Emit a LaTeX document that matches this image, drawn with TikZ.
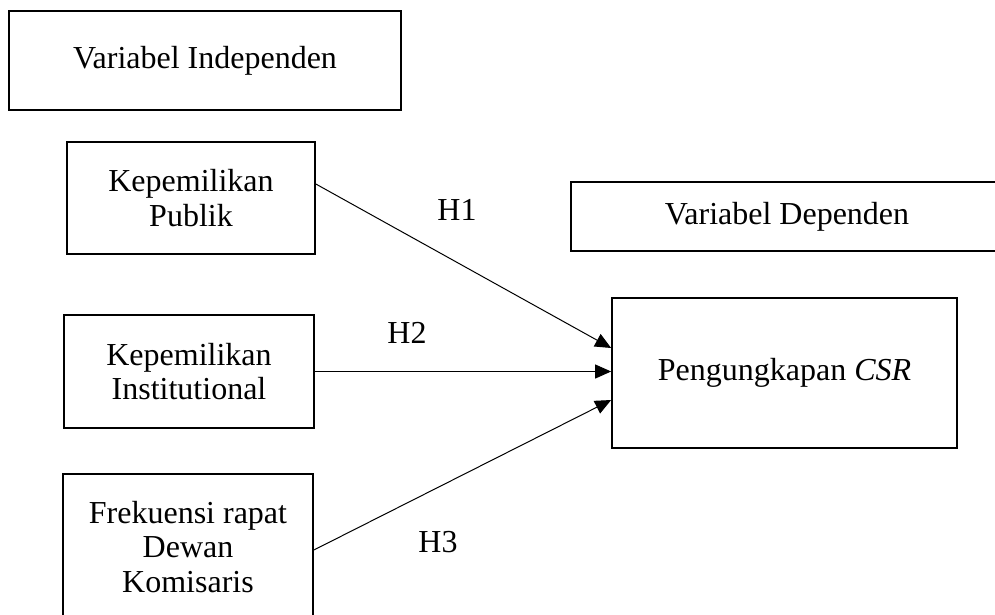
\documentclass[tikz,border=0pt]{standalone}
\usepackage{fontspec}
\setmainfont{Liberation Serif}
\usetikzlibrary{arrows.meta, positioning, calc}

\begin{document}
\begin{tikzpicture}[x=1pt, y=-1pt,
    box/.style={draw, line width=1.7pt, inner sep=0pt, align=center,
                font=\fontsize{32}{34.5}\selectfont},
    hyp/.style={font=\fontsize{32}{34.5}\selectfont},
    link/.style={-{Triangle[length=16pt, width=14pt]}, line width=1pt}]
    \useasboundingbox (0,0) rectangle (995,614);
    \clip (0,0) rectangle (995,614);

    % Independent side
    \node[box, minimum width=392pt, minimum height=99pt] (indep) at (205,60.5) {Variabel Independen};
    \node[box, minimum width=248pt, minimum height=112pt] (publik) at (191,198) {Kepemilikan\\Publik};
    \node[box, minimum width=250pt, minimum height=113pt] (inst) at (189,371.5) {Kepemilikan\\Institutional};
    \node[box, minimum width=250pt, minimum height=146pt] (frek) at (188,547) {Frekuensi rapat\\Dewan\\Komisaris};

    % Dependent side
    \node[box, minimum width=432pt, minimum height=69pt] (dep) at (787,216.5) {Variabel Dependen};
    \node[box, minimum width=345pt, minimum height=150pt] (csr) at (784.5,373) {Pengungkapan \textit{CSR}};

    % Hypotheses
    \draw[link] ([yshift=14pt]publik.east) -- ([yshift=25pt]csr.west);
    \draw[link] (inst.east) -- (inst.east -| csr.west);
    \draw[link] ([yshift=-3pt]frek.east) -- ([yshift=-27pt]csr.west);
    \node[hyp] (h1) at (457,210) {H1};
    \node[hyp] (h2) at (407,333) {H2};
    \node[hyp] (h3) at (438,542) {H3};
\end{tikzpicture}
\end{document}
